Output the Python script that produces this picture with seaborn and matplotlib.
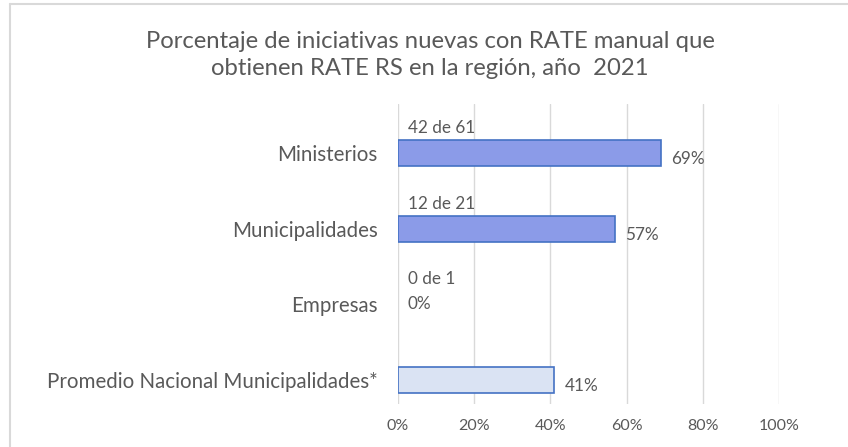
import matplotlib
matplotlib.use("Agg")
import matplotlib.pyplot as plt
import seaborn as sns
from matplotlib.ticker import FuncFormatter
from matplotlib.lines import Line2D

categories = ["Ministerios", "Municipalidades", "Empresas", "Promedio Nacional Municipalidades*"]
values = [0.69, 0.57, 0.0, 0.41]
count_labels = ["42 de 61", "12 de 21", "0 de 1", ""]
fill_colors = ["#8B9BE8", "#8B9BE8", "#8B9BE8", "#DAE3F3"]
title = "Porcentaje de iniciativas nuevas con RATE manual que\nobtienen RATE RS en la región, año  2021"
xticks = [0, 0.2, 0.4, 0.6, 0.8, 1.0]

sns.set_theme(style="white")
plt.rcParams["font.family"] = ["Lato", "DejaVu Sans"]
text_color = "#595959"

fig = plt.figure(figsize=(8.48, 4.47), dpi=100)
ax = fig.add_axes([398/848, 1-404/447, 381/848, 300/447])

sns.barplot(x=values, y=categories, hue=categories, palette=fill_colors, legend=False,
            width=0.34, edgecolor="#4472C4", linewidth=1.2, saturation=1, ax=ax, orient="h")
for p in ax.patches:
    if p.get_width() == 0:
        p.set_visible(False)

ax.set_xlim(0, 1.0)
ax.set_ylim(3.317, -0.647)
ax.set_xticks(xticks)
ax.xaxis.set_major_formatter(FuncFormatter(lambda v, p: f"{v*100:.0f}%"))
ax.grid(axis="x", color="#D9D9D9", linewidth=1)
ax.set_axisbelow(True)
for s in ax.spines.values():
    s.set_visible(False)
ax.tick_params(axis="x", colors=text_color, labelsize=11.5, length=0, pad=11)
ax.tick_params(axis="y", colors=text_color, labelsize=14.8, length=0, pad=14.5)
ax.set_xlabel("")
ax.set_ylabel("")

for i, (v, c) in enumerate(zip(values, count_labels)):
    if c:
        ax.text(0.025, i - 0.33, c, color=text_color, fontsize=12.3, ha="left", va="center")
    if v > 0:
        ax.text(v + 0.027, i + 0.08, f"{v*100:.0f}%", color=text_color, fontsize=12.3,
                ha="left", va="center")
    else:
        ax.text(0.025, i, f"{v*100:.0f}%", color=text_color, fontsize=12.3, ha="left", va="center")

fig.text(430/848, 1-55/447, title, ha="center", va="center", color=text_color,
         fontsize=17.2, linespacing=1.3)

fig.add_artist(Line2D([10/848, 1], [1-4/447, 1-4/447], color="#D9D9D9", linewidth=1.5,
                      transform=fig.transFigure))
fig.add_artist(Line2D([10/848, 10/848], [0, 1-4/447], color="#D9D9D9", linewidth=1.5,
                      transform=fig.transFigure))

fig.savefig("out.png", dpi=100)
